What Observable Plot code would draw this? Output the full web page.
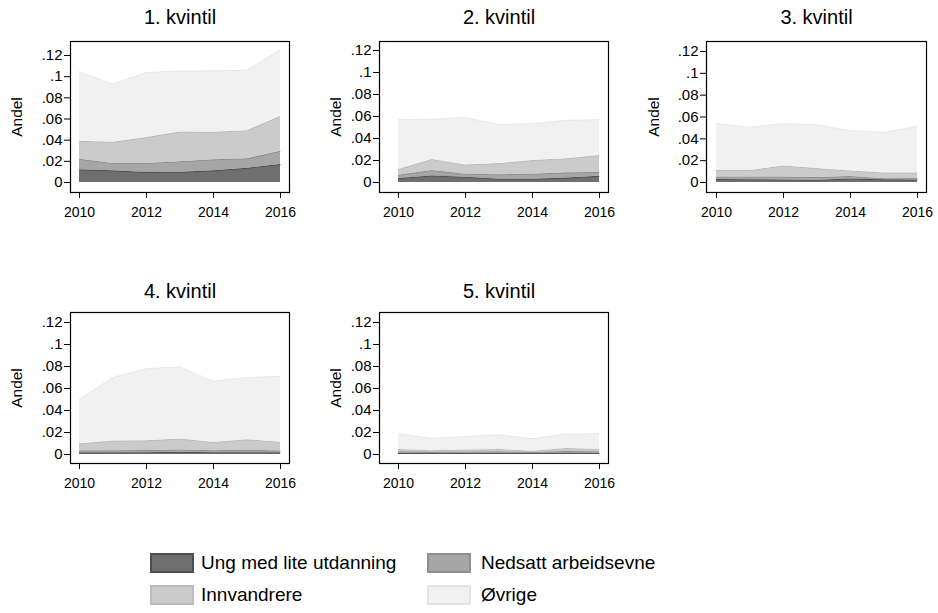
<!DOCTYPE html>
<html><head><meta charset="utf-8">
<script src="https://cdn.jsdelivr.net/npm/d3@7"></script>
<script src="https://cdn.jsdelivr.net/npm/@observablehq/plot@0.6"></script>
<style>
body{margin:0;background:#fff;font-family:Arial,"Liberation Sans",sans-serif;color:#000;}
#chart{position:relative;width:938px;height:613px;overflow:hidden;background:#fff;}
#chart svg{position:absolute;color:#000;}
.sw{position:absolute;width:44px;height:20px;box-sizing:border-box;border:2px solid;}
.lt{position:absolute;font-size:19px;line-height:20px;color:#000;white-space:nowrap;}
</style></head><body><div id="chart"></div><script>
const years = [2010, 2011, 2012, 2013, 2014, 2015, 2016];
const groups = ["Ung med lite utdanning", "Nedsatt arbeidsevne", "Innvandrere", "Øvrige"];
const panelTitles = ["1. kvintil", "2. kvintil", "3. kvintil", "4. kvintil", "5. kvintil"];
// shares per quintile (rows) and year (columns)
const ung = [
  [0.012, 0.011, 0.0095, 0.0097, 0.011, 0.0135, 0.017],
  [0.0036, 0.006, 0.0048, 0.003, 0.003, 0.004, 0.0057],
  [0.0027, 0.0026, 0.0024, 0.002, 0.0033, 0.0025, 0.0022],
  [0.0015, 0.0015, 0.0017, 0.002, 0.0017, 0.0017, 0.0015],
  [0.0012, 0.001, 0.0011, 0.0012, 0.0011, 0.0012, 0.0012]
];
const nedsatt = [
  [0.010, 0.007, 0.0085, 0.010, 0.0105, 0.009, 0.0125],
  [0.003, 0.005, 0.0028, 0.004, 0.0046, 0.0048, 0.0033],
  [0.0023, 0.0024, 0.0026, 0.0025, 0.0022, 0.001, 0.0014],
  [0.0018, 0.002, 0.002, 0.0022, 0.0018, 0.0023, 0.0017],
  [0.0013, 0.0012, 0.0012, 0.0013, 0.0009, 0.0015, 0.0013]
];
const innvandrere = [
  [0.017, 0.020, 0.0245, 0.028, 0.026, 0.0265, 0.033],
  [0.0052, 0.010, 0.0084, 0.0102, 0.0124, 0.0127, 0.0155],
  [0.006, 0.006, 0.0102, 0.0083, 0.0051, 0.0053, 0.0052],
  [0.0064, 0.0087, 0.0088, 0.0098, 0.0075, 0.0094, 0.008],
  [0.002, 0.0013, 0.0017, 0.002, 0.001, 0.0028, 0.002]
];
const ovrige = [
  [0.066, 0.055, 0.0615, 0.0575, 0.058, 0.057, 0.063],
  [0.0452, 0.0364, 0.043, 0.0354, 0.0335, 0.035, 0.0325],
  [0.043, 0.0397, 0.0386, 0.0402, 0.0368, 0.0371, 0.0426],
  [0.0403, 0.0578, 0.0655, 0.0656, 0.0556, 0.0566, 0.0599],
  [0.0143, 0.0111, 0.0124, 0.0135, 0.0113, 0.013, 0.0143]
];
const yTicks = [0, 0.02, 0.04, 0.06, 0.08, 0.1, 0.12];
const yTickLabels = ["0", ".02", ".04", ".06", ".08", ".1", ".12"];
const xTicks = [2010, 2012, 2014, 2016];
const yLabel = "Andel";

// styles
const fills = ["#6f6f6f", "#a6a6a6", "#cbcbcb", "#f1f1f1"];
const borders = ["#4e4e4e", "#8e8e8e", "#bcbcbc", "#e4e4e4"];
const edgeOpacity = [0.3, 0.15, 0.08, 0.04];
const font = 'Arial, "Liberation Sans", sans-serif';

// layout of each panel (pixels)
const layout = [
  {left: 0,   top: 0,   width: 310, ml: 70, mr: 21, mt: 41, mb: 38, il: 9,  ir: 9, it: 14, ib: 10, tdx: 0, tdy: -24, adx: -53},
  {left: 310, top: 0,   width: 310, ml: 69, mr: 12, mt: 41, mb: 38, il: 19, ir: 9, it: 9,  ib: 10, tdx: 5, tdy: -24, adx: -43},
  {left: 620, top: 0,   width: 318, ml: 86, mr: 12, mt: 41, mb: 38, il: 10, ir: 9, it: 10, ib: 10, tdx: 0, tdy: -24, adx: -52},
  {left: 0,   top: 270, width: 310, ml: 70, mr: 21, mt: 42, mb: 37, il: 9,  ir: 9, it: 10, ib: 9,  tdx: 0, tdy: -21, adx: -53},
  {left: 310, top: 270, width: 310, ml: 69, mr: 12, mt: 42, mb: 37, il: 19, ir: 9, it: 10, ib: 9,  tdx: 5, tdy: -21, adx: -43}
];

const series = [ung, nedsatt, innvandrere, ovrige];
const chart = document.getElementById("chart");

panelTitles.forEach((title, qi) => {
  const data = [];
  groups.forEach((g, gi) => years.forEach((yr, yi) => data.push({group: g, gi, year: yr, value: series[gi][qi][yi]})));
  const L = layout[qi];
  const svg = Plot.plot({
    width: L.width, height: 230,
    marginLeft: L.ml, marginRight: L.mr, marginTop: L.mt, marginBottom: L.mb,
    style: {fontFamily: font, fontSize: "14px", background: "transparent", color: "#000"},
    x: {domain: [2010, 2016], insetLeft: L.il, insetRight: L.ir},
    y: {domain: [0, 0.12], insetTop: L.it, insetBottom: L.ib},
    color: {domain: groups, range: fills},
    opacity: {type: "identity"},
    marks: [
      Plot.areaY(data, {x: "year", y: "value", z: "group", fill: "group", order: groups}),
      Plot.lineY(data, Plot.stackY2({x: "year", y: "value", z: "group", order: groups,
        stroke: "#000", strokeOpacity: d => edgeOpacity[d.gi], strokeWidth: 1})),
      Plot.frame({stroke: "#000", strokeWidth: 1.2}),
      Plot.axisY({ticks: yTicks, tickFormat: d => yTickLabels[yTicks.indexOf(d)], tickSize: 6, tickPadding: 2, fontSize: 15, label: null}),
      Plot.axisX({ticks: xTicks, tickFormat: d => String(d), tickSize: 6, tickPadding: 9, fontSize: 14, label: null}),
      Plot.text([title], {text: d => d, frameAnchor: "top", lineAnchor: "middle", textAnchor: "middle", dx: L.tdx, dy: L.tdy, fontSize: 20, fill: "#000"}),
      Plot.text([yLabel], {text: d => d, frameAnchor: "left", lineAnchor: "middle", textAnchor: "middle", rotate: -90, dx: L.adx, fontSize: 15.5, fill: "#000"})
    ]
  });
  svg.style.left = L.left + "px";
  svg.style.top = L.top + "px";
  chart.appendChild(svg);
});

// legend
const legendPos = [
  {sx: 150, tx: 201, y: 553},
  {sx: 427, tx: 481, y: 553},
  {sx: 150, tx: 201, y: 585},
  {sx: 427, tx: 481, y: 585}
];
groups.forEach((g, i) => {
  const p = legendPos[i];
  const sw = document.createElement("div");
  sw.className = "sw";
  sw.style.left = p.sx + "px"; sw.style.top = p.y + "px";
  sw.style.background = fills[i]; sw.style.borderColor = borders[i];
  chart.appendChild(sw);
  const t = document.createElement("div");
  t.className = "lt";
  t.style.left = p.tx + "px"; t.style.top = p.y + "px";
  t.textContent = g;
  chart.appendChild(t);
});
</script></body></html>
